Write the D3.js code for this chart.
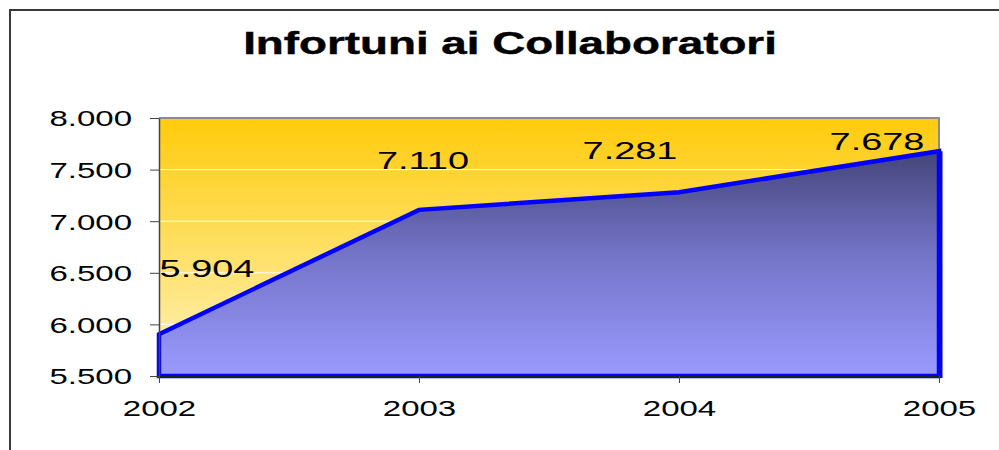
<!DOCTYPE html>
<html>
<head>
<meta charset="utf-8">
<script src="https://cdn.jsdelivr.net/npm/d3@7.9.0/dist/d3.min.js"></script>
<style>
  html, body { margin: 0; padding: 0; background: #fff; }
  svg { display: block; font-family: "Liberation Sans", Arial, sans-serif; }
</style>
</head>
<body>
<div id="chart"></div>
<script>
// ------- data -------
const years  = ['2002', '2003', '2004', '2005'];
const values = [5904, 7110, 7281, 7678];
const valueLabels = ['5.904', '7.110', '7.281', '7.678'];
const yTicks = [5500, 6000, 6500, 7000, 7500, 8000];
const yDomain = [5500, 8000];

// label placement relative to each point (dx, dy of text centre / baseline)
const labelOffsets = [[48, -57], [4, -41], [-49, -33], [-62, -1]];

const width = 999, height = 450;
const plot = { left: 159, right: 939, top: 118, bottom: 376 };
const SX = 1.5; // horizontal stretch of the original text

const fmt = d => d3.format(',')(d).replace(/,/g, '.');

const svg = d3.select('#chart').append('svg')
  .attr('width', width)
  .attr('height', height);

// outer frame (top and left only visible)
svg.append('path')
  .attr('d', `M10,${height} L10,10 L${width},10`)
  .attr('fill', 'none')
  .attr('stroke', '#3a3a3a')
  .attr('stroke-width', 2);

const defs = svg.append('defs');

const bgGrad = defs.append('linearGradient')
  .attr('id', 'bgGrad')
  .attr('gradientUnits', 'userSpaceOnUse')
  .attr('x1', 0).attr('x2', 0)
  .attr('y1', plot.top).attr('y2', plot.bottom);
bgGrad.append('stop').attr('offset', 0).attr('stop-color', '#ffcb0c');
bgGrad.append('stop').attr('offset', 1).attr('stop-color', '#fff3bd');

const x = d3.scalePoint().domain(years).range([plot.left, plot.right]);
const y = d3.scaleLinear().domain(yDomain).range([plot.bottom, plot.top]);

const areaGrad = defs.append('linearGradient')
  .attr('id', 'areaGrad')
  .attr('gradientUnits', 'userSpaceOnUse')
  .attr('x1', 0).attr('x2', 0)
  .attr('y1', y(d3.max(values))).attr('y2', plot.bottom);
areaGrad.append('stop').attr('offset', 0).attr('stop-color', '#45457a');
areaGrad.append('stop').attr('offset', 0.45).attr('stop-color', '#7373c6');
areaGrad.append('stop').attr('offset', 1).attr('stop-color', '#9a9aff');

// plot background
svg.append('rect')
  .attr('x', plot.left).attr('y', plot.top)
  .attr('width', plot.right - plot.left)
  .attr('height', plot.bottom - plot.top)
  .attr('fill', 'url(#bgGrad)');

// white gridlines
svg.append('g')
  .selectAll('line')
  .data(yTicks.filter(t => t > yDomain[0] && t < yDomain[1]))
  .join('line')
  .attr('x1', plot.left).attr('x2', plot.right)
  .attr('y1', d => y(d)).attr('y2', d => y(d))
  .attr('stroke', '#ffffff')
  .attr('stroke-width', 1);

// plot border top / right
svg.append('path')
  .attr('d', `M${plot.left},${plot.top} L${plot.right},${plot.top} L${plot.right},${plot.bottom}`)
  .attr('fill', 'none')
  .attr('stroke', '#8c8c8c')
  .attr('stroke-width', 2);

// area
const area = d3.area()
  .x((d, i) => x(years[i]))
  .y0(y(yDomain[0]))
  .y1(d => y(d));

svg.append('path')
  .datum(values)
  .attr('d', area)
  .attr('fill', 'url(#areaGrad)')
  .attr('stroke', '#0000ff')
  .attr('stroke-width', 4.5)
  .attr('stroke-linejoin', 'miter');

// the closing edge at the last year is drawn heavier in the original
const last = values.length - 1;
svg.append('line')
  .attr('x1', x(years[last]) + 1).attr('x2', x(years[last]) + 1)
  .attr('y1', y(values[last])).attr('y2', plot.bottom + 2)
  .attr('stroke', '#0000ff')
  .attr('stroke-width', 5);

// axes
const yAxis = svg.append('g')
  .attr('transform', `translate(${plot.left},0)`)
  .call(d3.axisLeft(y).tickValues(yTicks).tickSize(9).tickSizeOuter(0).tickFormat(fmt));
yAxis.select('.domain').attr('stroke', '#444').attr('stroke-width', 1.5);
yAxis.selectAll('.tick line').attr('stroke', '#444');
yAxis.selectAll('text')
  .attr('font-size', 22)
  .attr('fill', '#000')
  .attr('x', -27 / SX)
  .attr('dy', '0.36em')
  .attr('transform', `scale(${SX},1)`);

const xAxis = svg.append('g')
  .attr('transform', `translate(0,${plot.bottom})`)
  .call(d3.axisBottom(x).tickSize(7).tickSizeOuter(0));
xAxis.select('.domain').attr('stroke', '#222').attr('stroke-width', 1.5);
xAxis.selectAll('.tick line').attr('stroke', '#444');
xAxis.selectAll('text')
  .attr('font-size', 22)
  .attr('fill', '#000')
  .attr('y', 40)
  .attr('dy', 0)
  .attr('transform', `scale(${SX},1)`)
  .attr('x', 0);
yAxis.raise();

// data labels
svg.append('g')
  .selectAll('text')
  .data(values)
  .join('text')
  .attr('transform', (d, i) =>
    `translate(${x(years[i]) + labelOffsets[i][0]},${y(d) + labelOffsets[i][1]}) scale(1.58,1)`)
  .attr('text-anchor', 'middle')
  .attr('font-size', 24)
  .attr('fill', '#000')
  .text((d, i) => valueLabels[i]);

// title
svg.append('text')
  .attr('transform', `translate(510,54) scale(1.5,1)`)
  .attr('text-anchor', 'middle')
  .attr('font-size', 30.5)
  .attr('font-weight', 'bold')
  .attr('fill', '#000')
  .attr('stroke', '#000')
  .attr('stroke-width', 0.4)
  .text('Infortuni ai Collaboratori');
</script>
</body>
</html>
